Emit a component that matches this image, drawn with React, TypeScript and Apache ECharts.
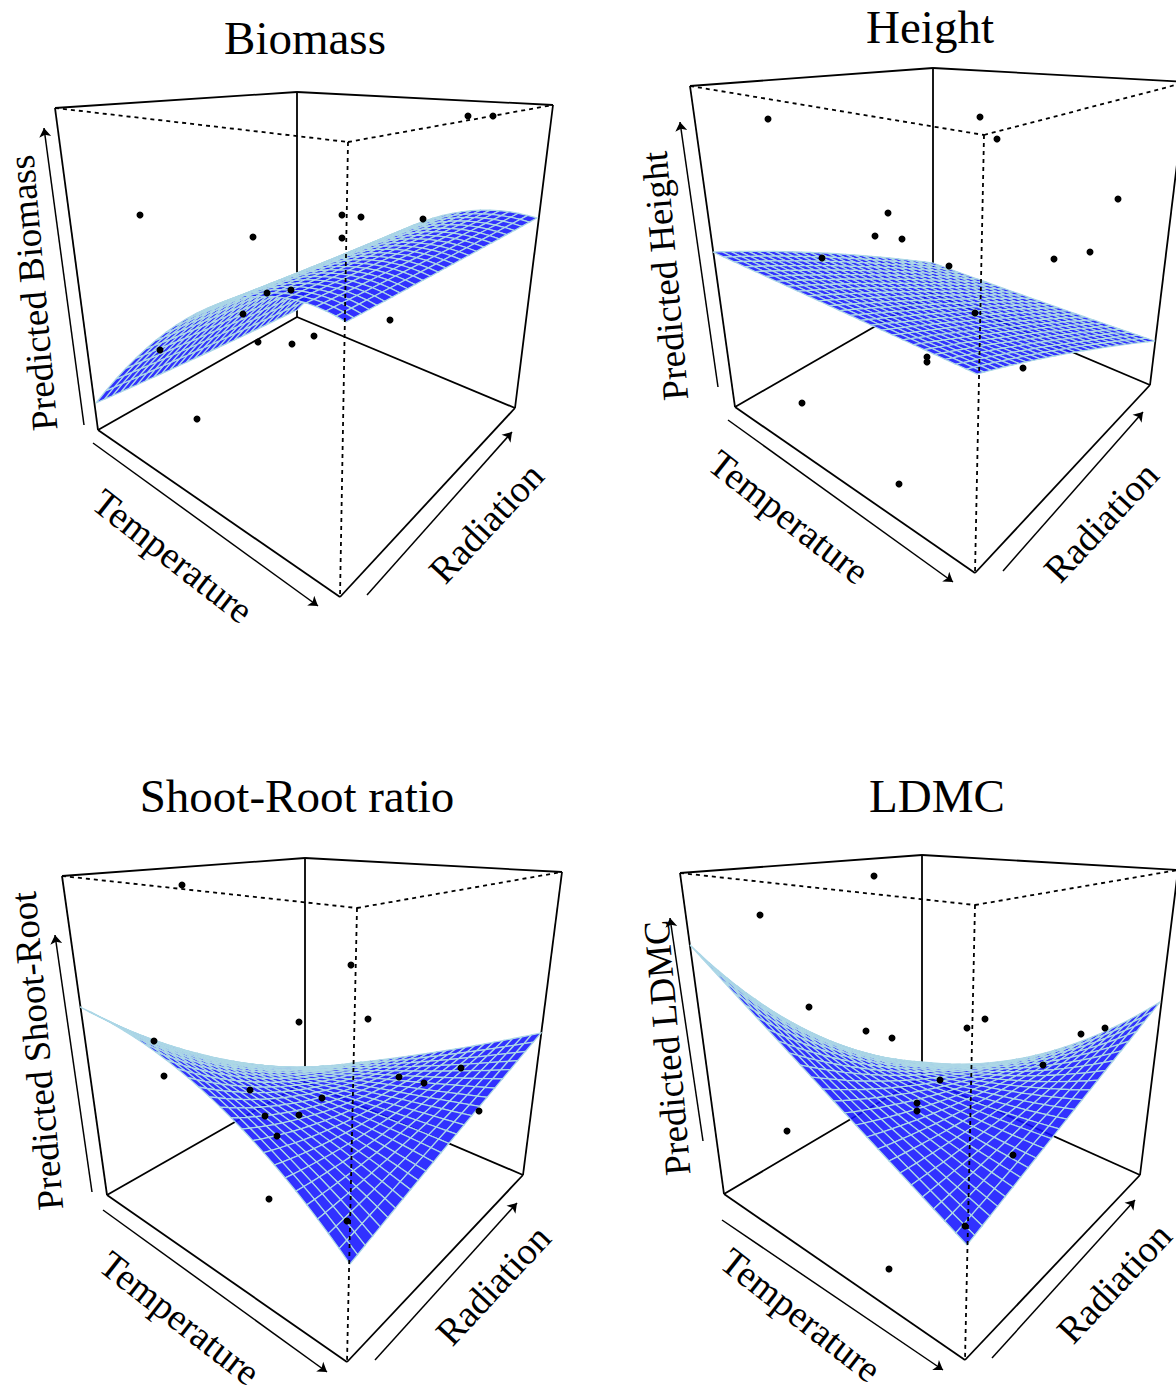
import React, { useEffect, useRef } from "react";
import * as echarts from "echarts";

type P = [number, number];

// Projected plane of each 3-D box.
const titles = ["Biomass", "Height", "Shoot-Root ratio", "LDMC"];
const yNames = ["Predicted Biomass", "Predicted Height", "Predicted Shoot-Root", "Predicted LDMC"];
const titleAnchors: P[] = [[305, 38], [930, 27], [297, 796], [937, 796]];
const yNameAnchors: P[] = [[33, 293], [665, 276], [37, 1051], [667, 1048]];
const tempAnchors: P[] = [[173, 556], [789, 517], [180, 1318], [801, 1315]];
const radAnchors: P[] = [[486, 523], [1101, 522], [493, 1285], [1114, 1283]];

// box corners: left, back, right, front
const topCorners: P[][] = [
  [[55, 108], [297, 92], [553, 105], [348, 142]],
  [[690, 86], [933, 68], [1187, 82], [984, 135]],
  [[62, 876], [305, 858], [562, 872], [357, 908]],
  [[680, 873], [922, 855], [1178, 870], [975, 905]],
];
const floorCorners: P[][] = [
  [[98, 430], [297, 317], [515, 408], [340, 597]],
  [[735, 407], [933, 293], [1150, 385], [975, 573]],
  [[107, 1195], [305, 1082], [523, 1175], [347, 1362]],
  [[724, 1194], [922, 1077], [1140, 1175], [965, 1360]],
];
// axis arrows: from, to
const tempArrows: P[][] = [
  [[93, 443], [318, 606]],
  [[728, 420], [953, 582]],
  [[103, 1210], [327, 1372]],
  [[722, 1220], [943, 1370]],
];
const radArrows: P[][] = [
  [[367, 595], [512, 432]],
  [[1003, 571], [1143, 412]],
  [[375, 1360], [517, 1203]],
  [[992, 1358], [1135, 1200]],
];
const zArrows: P[][] = [
  [[84, 425], [44, 128]],
  [[718, 387], [680, 122]],
  [[92, 1192], [55, 935]],
  [[703, 1141], [670, 918]],
];

// fitted surface read at temperature 0, .5, 1 (rows) and radiation 0, .5, 1 (columns)
const biomassSurface: P[][] = [
  [[96, 403], [198, 357], [297, 310]],
  [[221, 303], [320, 264], [419, 223]],
  [[346, 322], [442, 270], [537, 218]],
];
const heightSurface: P[][] = [
  [[713, 252], [823, 253], [933, 263]],
  [[845, 313], [944, 306], [1045, 303]],
  [[977, 374], [1065, 354], [1155, 341]],
];
const shootRootSurface: P[][] = [
  [[80, 1007], [192, 1052], [305, 1068]],
  [[215, 1102], [318, 1095], [423, 1054]],
  [[350, 1264], [445, 1148], [541, 1033]],
];
const ldmcSurface: P[][] = [
  [[690, 945], [806, 1030], [923, 1062]],
  [[828, 1095], [935, 1085], [1041, 1054]],
  [[967, 1245], [1063, 1124], [1160, 1002]],
];
const surfaces = [biomassSurface, heightSurface, shootRootSurface, ldmcSurface];

const biomassPoints: P[] = [[140, 215], [253, 237], [342, 215], [361, 217], [342, 238], [423, 219], [468, 116], [493, 116], [160, 350], [243, 314], [267, 293], [291, 290], [258, 342], [292, 344], [314, 336], [390, 320], [197, 419]];
const heightPoints: P[] = [[768, 119], [980, 117], [997, 139], [1118, 199], [888, 213], [875, 236], [902, 239], [1054, 259], [1090, 252], [822, 258], [949, 266], [975, 313], [927, 357], [927, 362], [1023, 368], [802, 403], [899, 484]];
const shootRootPoints: P[] = [[182, 885], [351, 965], [368, 1019], [299, 1022], [154, 1041], [164, 1076], [250, 1090], [265, 1116], [299, 1115], [322, 1098], [277, 1136], [399, 1077], [424, 1083], [461, 1068], [479, 1111], [269, 1199], [347, 1221]];
const ldmcPoints: P[] = [[874, 876], [760, 915], [809, 1007], [866, 1031], [892, 1038], [967, 1028], [985, 1019], [1081, 1034], [1105, 1028], [1043, 1065], [940, 1080], [917, 1103], [917, 1111], [787, 1131], [1013, 1155], [965, 1226], [889, 1269]];
const pointSets = [biomassPoints, heightPoints, shootRootPoints, ldmcPoints];

const CELLS = 25;
const SERIF = "Liberation Serif";
const SURFACE_FILL = "rgba(20,20,255,0.88)";
const SURFACE_LINE = "#add8e6";

const W = 1176;
const H = 1387;

const basis = (t: number) => [2 * (t - 0.5) * (t - 1), -4 * t * (t - 1), 2 * t * (t - 0.5)];
function patch(ctrl: P[][], u: number, v: number): P {
  const bu = basis(u);
  const bv = basis(v);
  let x = 0;
  let y = 0;
  for (let i = 0; i < 3; i++)
    for (let j = 0; j < 3; j++) {
      x += bu[i] * bv[j] * ctrl[i][j][0];
      y += bu[i] * bv[j] * ctrl[i][j][1];
    }
  return [x, y];
}

function buildOption() {
  const grids: any[] = [];
  const xAxes: any[] = [];
  const yAxes: any[] = [];
  const series: any[] = [];
  const graphics: any[] = [];

  const text = (t: string, a: P, deg: number, size: number) => ({
    type: "text",
    x: a[0],
    y: a[1],
    rotation: (deg * Math.PI) / 180,
    silent: true,
    style: { text: t, align: "center", verticalAlign: "middle", fontFamily: SERIF, fontSize: size, fill: "#000" },
  });

  titles.forEach((_, k) => {
    const col = k % 2;
    const row = k < 2 ? 0 : 1;
    const left = (col * W) / 2;
    const top = (row * H) / 2;
    grids.push({ left, top, width: W / 2, height: H / 2, containLabel: false });
    xAxes.push({ type: "value", gridIndex: k, min: left, max: left + W / 2, show: false });
    yAxes.push({ type: "value", gridIndex: k, min: top, max: top + H / 2, inverse: true, show: false });

    const [tl, tb, tr, tf] = topCorners[k];
    const [fl, fb, fr, ff] = floorCorners[k];
    const base = { type: "lines", coordinateSystem: "cartesian2d", xAxisIndex: k, yAxisIndex: k, silent: true };

    series.push({
      ...base,
      z: 1,
      lineStyle: { color: "#000", width: 1.8, opacity: 1 },
      data: [[tl, fl], [tr, fr], [tb, fb], [tl, tb], [tb, tr], [fl, ff], [ff, fr], [fl, fb], [fb, fr]].map((coords) => ({ coords })),
    });
    series.push({
      ...base,
      z: 1,
      symbol: ["none", "arrow"],
      symbolSize: 9,
      lineStyle: { color: "#000", width: 1.5, opacity: 1 },
      data: [tempArrows[k], radArrows[k], zArrows[k]].map((coords) => ({ coords })),
    });

    const ctrl = surfaces[k];
    const cells: number[][] = [];
    for (let i = 0; i < CELLS; i++) for (let j = CELLS - 1; j >= 0; j--) cells.push([i, j]);
    series.push({
      type: "custom",
      xAxisIndex: k,
      yAxisIndex: k,
      z: 2,
      silent: true,
      data: cells,
      encode: { x: 0, y: 1 },
      clip: false,
      renderItem: (_p: any, api: any) => {
        const i = api.value(0);
        const j = api.value(1);
        const pts = [[i, j], [i + 1, j], [i + 1, j + 1], [i, j + 1]].map(([a, b]) => api.coord(patch(ctrl, a / CELLS, b / CELLS)));
        return {
          type: "polygon",
          shape: { points: pts },
          style: { fill: SURFACE_FILL, stroke: SURFACE_LINE, lineWidth: 1.25 },
        };
      },
    });

    series.push({
      ...base,
      z: 3,
      lineStyle: { color: "#000", width: 1.8, type: [4, 4], opacity: 1 },
      data: [[tl, tf], [tf, tr], [tf, ff]].map((coords) => ({ coords })),
    });
    series.push({
      type: "scatter",
      xAxisIndex: k,
      yAxisIndex: k,
      z: 4,
      silent: true,
      symbol: "circle",
      symbolSize: 7,
      itemStyle: { color: "#000", opacity: 1 },
      data: pointSets[k],
    });

    graphics.push(text(titles[k], titleAnchors[k], 0, 47));
    graphics.push(text(yNames[k], yNameAnchors[k], 95, 37));
    graphics.push(text("Temperature", tempAnchors[k], -38, 38));
    graphics.push(text("Radiation", radAnchors[k], 47, 38));
  });

  return {
    animation: false,
    backgroundColor: "#fff",
    grid: grids,
    xAxis: xAxes,
    yAxis: yAxes,
    series,
    graphic: { elements: graphics },
  };
}

export default function App() {
  const ref = useRef<HTMLDivElement>(null);
  useEffect(() => {
    if (!ref.current) return;
    const chart = echarts.init(ref.current, undefined, { renderer: "svg" });
    chart.setOption(buildOption() as any);
    return () => chart.dispose();
  }, []);
  return <div ref={ref} style={{ position: "absolute", left: 0, top: 0, width: W, height: H }} />;
}
